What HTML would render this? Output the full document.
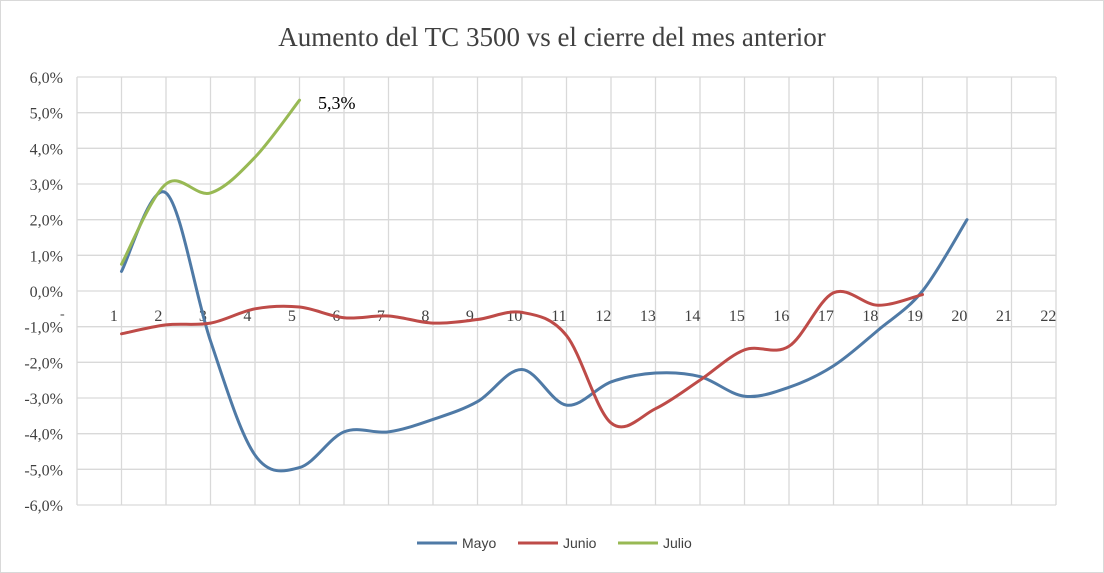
<!DOCTYPE html>
<html><head><meta charset="utf-8"><style>
body{margin:0;background:#fff;}
svg{display:block;font-family:"Liberation Serif",serif;}
</style></head><body>
<svg id="chart" width="1104" height="573" viewBox="0 0 1104 573">
<rect x="0.5" y="0.5" width="1103" height="572" fill="#fff" stroke="#d9d9d9"/>
<text x="552" y="46" text-anchor="middle" font-size="27" fill="#404040">Aumento del TC 3500 vs el cierre del mes anterior</text>
<g id="grid"></g>
<g id="yticks"></g>
<g id="xticks"></g>
<g id="series"></g>
<text x="318" y="109" font-size="18" fill="#000">5,3%</text>
<text x="60" y="318" font-size="14" fill="#404040">-</text>
<g id="legend"></g>
</svg>
<script>
const days = [1,2,3,4,5,6,7,8,9,10,11,12,13,14,15,16,17,18,19,20,21,22];
const yTicks = [6,5,4,3,2,1,0,-1,-2,-3,-4,-5,-6];
const yTickLabels = ["6,0%","5,0%","4,0%","3,0%","2,0%","1,0%","0,0%","-1,0%","-2,0%","-3,0%","-4,0%","-5,0%","-6,0%"];
const seriesNames = ["Mayo","Junio","Julio"];
const mayo = [0.55,2.75,-1.4,-4.6,-4.95,-3.95,-3.95,-3.6,-3.1,-2.2,-3.2,-2.55,-2.3,-2.4,-2.95,-2.7,-2.1,-1.1,0.0,2.0];
const junio = [-1.2,-0.95,-0.9,-0.5,-0.45,-0.75,-0.7,-0.9,-0.8,-0.6,-1.25,-3.7,-3.3,-2.5,-1.65,-1.55,-0.05,-0.4,-0.1];
const julio = [0.75,3.0,2.75,3.75,5.35];
const colors = ["#4f7aa6","#be4b48","#98b954"];

const NS="http://www.w3.org/2000/svg";
const X0=77,X1=1056,Y0=77,Y1=505;
const step=(X1-X0)/22;
const x=d=>X0+d*step;
const y=v=>Y0+(6-v)/12*(Y1-Y0);
function mk(tag,attrs,parent){const e=document.createElementNS(NS,tag);for(const k in attrs)e.setAttribute(k,attrs[k]);parent.appendChild(e);return e;}
const grid=document.getElementById('grid');
yTicks.forEach((v,i)=>{
  const l=mk('line',{x1:X0,x2:X1,y1:y(v),y2:y(v),stroke:'#d9d9d9','stroke-width':1.3},grid);
  
  
  const t=mk('text',{x:X0-14,y:y(v)+6,'text-anchor':'end','font-size':16,fill:'#404040'},document.getElementById('yticks'));
  t.textContent=yTickLabels[i];
  
  
});
for(let k=0;k<=22;k++){
  const l=mk('line',{x1:X0+k*step,x2:X0+k*step,y1:Y0,y2:Y1,stroke:'#d9d9d9','stroke-width':1.3},grid);
  
  
}
days.forEach(d=>{
  const t=mk('text',{x:X0+(d-0.17)*step,y:y(0)+30,'text-anchor':'middle','font-size':16,fill:'#404040'},document.getElementById('xticks'));
  t.textContent=d;
  
  
});
function smooth(vals){
  const p=vals.map((v,i)=>[x(i+1),y(v)]);
  let s=`M${p[0][0]},${p[0][1]}`;
  for(let i=0;i<p.length-1;i++){
    const p0=p[i-1]||p[i],p1=p[i],p2=p[i+1],p3=p[i+2]||p2;
    const c1=[p1[0]+(p2[0]-p0[0])/6,p1[1]+(p2[1]-p0[1])/6];
    const c2=[p2[0]-(p3[0]-p1[0])/6,p2[1]-(p3[1]-p1[1])/6];
    s+=`C${c1[0]},${c1[1]} ${c2[0]},${c2[1]} ${p2[0]},${p2[1]}`;
  }
  return s;
}
const ser=document.getElementById('series');
[mayo,junio,julio].forEach((vals,i)=>{
  const p=mk('path',{d:smooth(vals),fill:'none',stroke:colors[i],'stroke-width':3,'stroke-linecap':'round'},ser);
  
  
});
const leg=document.getElementById('legend');
const lx=[417,518,618];
seriesNames.forEach((n,i)=>{
  const l=mk('line',{x1:lx[i],x2:lx[i]+40,y1:543,y2:543,stroke:colors[i],'stroke-width':3},leg);
  
  
  const t=mk('text',{x:lx[i]+45,y:548,'font-size':14,fill:'#404040','font-family':'Liberation Sans, sans-serif'},leg);
  t.textContent=n;
  
  
});
</script>
</body></html>
